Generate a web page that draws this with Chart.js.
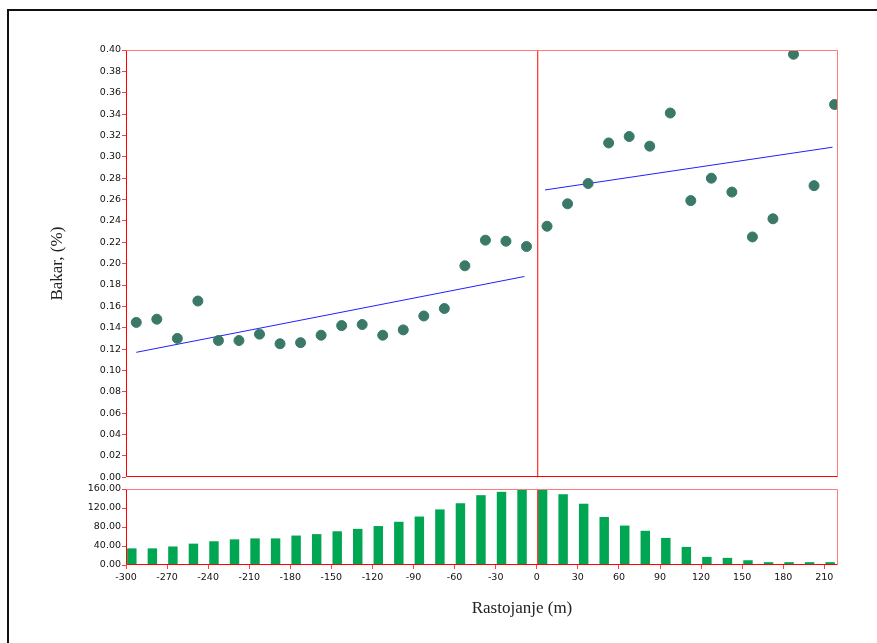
<!DOCTYPE html>
<html>
<head>
<meta charset="utf-8">
<script src="https://cdn.jsdelivr.net/npm/chart.js@4.4.0/dist/chart.umd.min.js"></script>
<style>
  body { margin: 0; background: #fff; }
  #wrap { position: relative; width: 877px; height: 643px; overflow: hidden; }
  #frame { position: absolute; left: 7px; top: 9px; width: 900px; height: 700px; border-left: 2px solid #111; border-top: 2px solid #111; }
  #top { position: absolute; left: 0; top: 0; }
  #bottom { position: absolute; left: 0; top: 480px; }
  #xtitle { position: absolute; left: 422px; top: 598px; width: 200px; text-align: center;
            font: 17px "Liberation Serif", serif; line-height: 20px; color: #222; }
</style>
</head>
<body>
<div id="wrap">
  <div id="frame"></div>
  <canvas id="bottom" width="877" height="163"></canvas>
  <canvas id="top" width="877" height="484"></canvas>
  <div id="xtitle">Rastojanje (m)</div>
</div>
<script>
// distance (m) of each sample, bin centres
var distance = [-292.5, -277.5, -262.5, -247.5, -232.5, -217.5, -202.5, -187.5, -172.5, -157.5,
                -142.5, -127.5, -112.5, -97.5, -82.5, -67.5, -52.5, -37.5, -22.5, -7.5,
                7.5, 22.5, 37.5, 52.5, 67.5, 82.5, 97.5, 112.5, 127.5, 142.5,
                157.5, 172.5, 187.5, 202.5, 217.5];
// copper, %
var copper = [0.145, 0.148, 0.130, 0.165, 0.128, 0.128, 0.134, 0.125, 0.126, 0.133,
              0.142, 0.143, 0.133, 0.138, 0.151, 0.158, 0.198, 0.222, 0.221, 0.216,
              0.235, 0.256, 0.275, 0.313, 0.319, 0.310, 0.341, 0.259, 0.280, 0.267,
              0.225, 0.242, 0.396, 0.273, 0.349];
// number of samples per bin
var counts = [35, 35, 39, 45, 50, 54, 56, 56, 62, 65,
              71, 76, 82, 91, 102, 117, 130, 147, 154, 158,
              158, 149, 129, 101, 83, 72, 57, 38, 17, 15,
              10, 6, 6, 6, 6];
// trend lines either side of 0
var trendLeftX = [-292.5, -9];
var trendLeftY = [0.117, 0.188];
var trendRightX = [6, 216];
var trendRightY = [0.269, 0.309];

var tickFont = { family: 'DejaVu Sans', size: 9.5 };
var tickColor = '#111';
var markRed = 'rgba(255,0,0,0.75)';
var barShift = -3.25; // bars sit in the left half of each bin

function pairs(xs, ys) {
  return xs.map(function (x, i) { return { x: x, y: ys[i] }; });
}

// plot frame + vertical line at distance 0
var framePlugin = {
  id: 'frame',
  afterDraw: function (chart) {
    var a = chart.chartArea, c = chart.ctx;
    var l = Math.round(a.left) + 0.5, r = Math.round(a.right) - 0.5;
    var t = Math.round(a.top) + 0.5, b = Math.round(a.bottom) - 0.5;
    var x0 = Math.round(chart.scales.x.getPixelForValue(0));
    c.save();
    c.fillStyle = '#ff3b3b';
    c.fillRect(x0, a.top, 1.3, a.bottom - a.top);
    c.lineWidth = 1;
    c.strokeStyle = '#ff7a7a';
    c.beginPath();
    c.moveTo(l, t); c.lineTo(r, t); c.lineTo(r, b);
    c.stroke();
    c.strokeStyle = '#ff0000';
    c.beginPath();
    c.moveTo(l, t); c.lineTo(l, b); c.lineTo(r, b);
    c.stroke();
    c.restore();
  }
};

new Chart(document.getElementById('top'), {
  type: 'scatter',
  data: {
    datasets: [
      { data: pairs(distance, copper), backgroundColor: '#3a7868', borderColor: '#3a7868',
        pointRadius: 5, pointHoverRadius: 5, order: 0 },
      { type: 'line', data: pairs(trendLeftX, trendLeftY), borderColor: '#2020ff', borderWidth: 1,
        pointRadius: 0, fill: false, order: 1 },
      { type: 'line', data: pairs(trendRightX, trendRightY), borderColor: '#2020ff', borderWidth: 1,
        pointRadius: 0, fill: false, order: 1 }
    ]
  },
  options: {
    responsive: false,
    animation: false,
    layout: { padding: { top: 50, right: 39, bottom: 4, left: 0 } },
    plugins: { legend: { display: false }, tooltip: { enabled: false } },
    scales: {
      x: { type: 'linear', min: -300, max: 220, display: false },
      y: {
        min: 0, max: 0.4,
        ticks: { stepSize: 0.02, padding: 1, font: tickFont, color: tickColor,
                 callback: function (v) { return v.toFixed(2); } },
        grid: { drawOnChartArea: false, drawTicks: true, tickLength: 4, color: markRed },
        border: { display: false },
        title: { display: true, text: 'Bakar, (%)', color: '#222',
                 font: { family: 'Liberation Serif', size: 17 }, padding: { top: 47 } },
        afterFit: function (s) { s.width = 126; }
      }
    }
  },
  plugins: [framePlugin]
});

new Chart(document.getElementById('bottom'), {
  type: 'bar',
  data: {
    datasets: [{
      data: pairs(distance.map(function (d) { return d + barShift; }), counts),
      backgroundColor: '#00a651',
      borderWidth: 0,
      barPercentage: 0.46,
      categoryPercentage: 1
    }]
  },
  options: {
    responsive: false,
    animation: false,
    layout: { padding: { top: 9, right: 39, bottom: 58, left: 0 } },
    plugins: { legend: { display: false }, tooltip: { enabled: false } },
    scales: {
      x: {
        type: 'linear', min: -300, max: 220, offset: false,
        ticks: { stepSize: 30, includeBounds: false, padding: 3, font: tickFont, color: tickColor, maxRotation: 0 },
        grid: { drawOnChartArea: false, drawTicks: true, tickLength: 4, color: markRed, offset: false },
        border: { display: false },
        afterFit: function (s) { s.height = 20; }
      },
      y: {
        min: 0, max: 160,
        ticks: { stepSize: 40, padding: 1, font: tickFont, color: tickColor,
                 callback: function (v) { return v.toFixed(2); } },
        grid: { drawOnChartArea: false, drawTicks: true, tickLength: 4, color: markRed },
        border: { display: false },
        afterFit: function (s) { s.width = 126; }
      }
    }
  },
  plugins: [framePlugin]
});
</script>
</body>
</html>
